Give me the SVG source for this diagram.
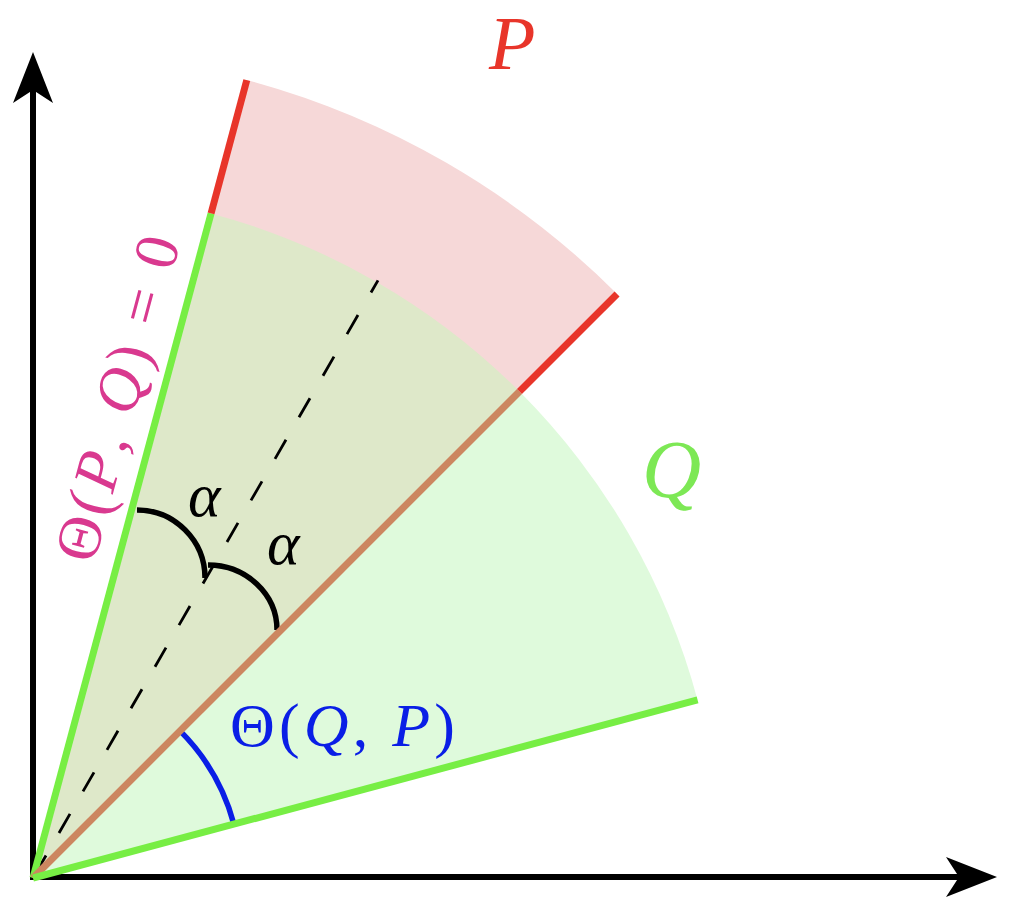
<svg xmlns="http://www.w3.org/2000/svg" width="1012" height="910" viewBox="0 0 1012 910">
<style>
.axis{stroke:#000;stroke-width:6;fill:none}
.edge{stroke-width:7;fill:none;stroke-linecap:butt}
.mark{stroke:#000;stroke-width:5.5;fill:none}
.math{font-family:"Liberation Serif","DejaVu Serif",serif}
.it{font-style:italic}
</style>
<defs>
<marker id="arr" viewBox="-15 -22 56 44" markerWidth="56" markerHeight="44" refX="0" refY="0" orient="auto" markerUnits="userSpaceOnUse">
<path d="M38,0 L-13,-20 L0,0 L-13,20 Z" fill="#000"/>
</marker>
</defs>
<g id="sectors">
<path id="Q-sector" d="M33,878 L697.56,699.93 A688,688 0 0 0 211.07,213.44 Z" fill="#dffadc"/>
<path id="P-sector" d="M33,878 L617.07,293.93 A826,826 0 0 0 246.78,80.06 Z" fill="#f6d8d8"/>
<path id="overlap" d="M33,878 L519.49,391.51 A688,688 0 0 0 211.07,213.44 Z" fill="#dee8c9"/>
</g>
<g id="connectors">
<line id="bisector" x1="33" y1="878" x2="378" y2="280.4" stroke="#000" stroke-width="2.8" stroke-dasharray="22 26" stroke-dashoffset="44"/>
<path id="alpha-arc-1" class="mark" d="M137,510 A68,68 0 0 1 205,578"/>
<path id="alpha-arc-2" class="mark" d="M208,565 A69,65 0 0 1 277,630"/>
<path id="theta-arc" d="M180.08,730.92 A208,208 0 0 1 233.9,824.17" stroke="#0a1ee6" stroke-width="5.5" fill="none"/>
<line class="axis" x1="33" y1="880" x2="33" y2="90" marker-end="url(#arr)"/>
<line class="axis" x1="30" y1="877" x2="959" y2="877" marker-end="url(#arr)"/>
<line class="edge" x1="33" y1="878" x2="211.07" y2="213.44" stroke="#77ee44"/>
<line class="edge" x1="211.07" y1="213.44" x2="246.78" y2="80.06" stroke="#e8352a"/>
<line class="edge" x1="33" y1="878" x2="519.49" y2="391.51" stroke="#cc8660"/>
<line class="edge" x1="519.49" y1="391.51" x2="617.07" y2="293.93" stroke="#e8352a"/>
<line class="edge" x1="33" y1="878" x2="697.56" y2="699.93" stroke="#77ee44"/>
</g>
<g id="label-P"><text class="math it" x="489" y="69" font-size="76" fill="#e8352a">P</text></g>
<g id="label-Q"><text class="math it" x="642" y="497" font-size="82" fill="#7de855">Q</text></g>
<g id="label-alpha1"><text class="math it" x="188" y="516" font-size="62" fill="#000">α</text></g>
<g id="label-alpha2"><text class="math it" x="267" y="564" font-size="62" fill="#000">α</text></g>
<g id="label-thetaQP"><text class="math" x="230" y="746" font-size="62" fill="#0a1ee6" textLength="225" lengthAdjust="spacing">Θ(<tspan class="it">Q</tspan>, <tspan class="it">P</tspan>)</text></g>
<g id="label-thetaPQ"><text class="math" transform="translate(94,565) rotate(-75)" font-size="62" fill="#d9398f" textLength="334" lengthAdjust="spacing">Θ(<tspan class="it">P</tspan>, <tspan class="it">Q</tspan>) = 0</text></g>
</svg>
